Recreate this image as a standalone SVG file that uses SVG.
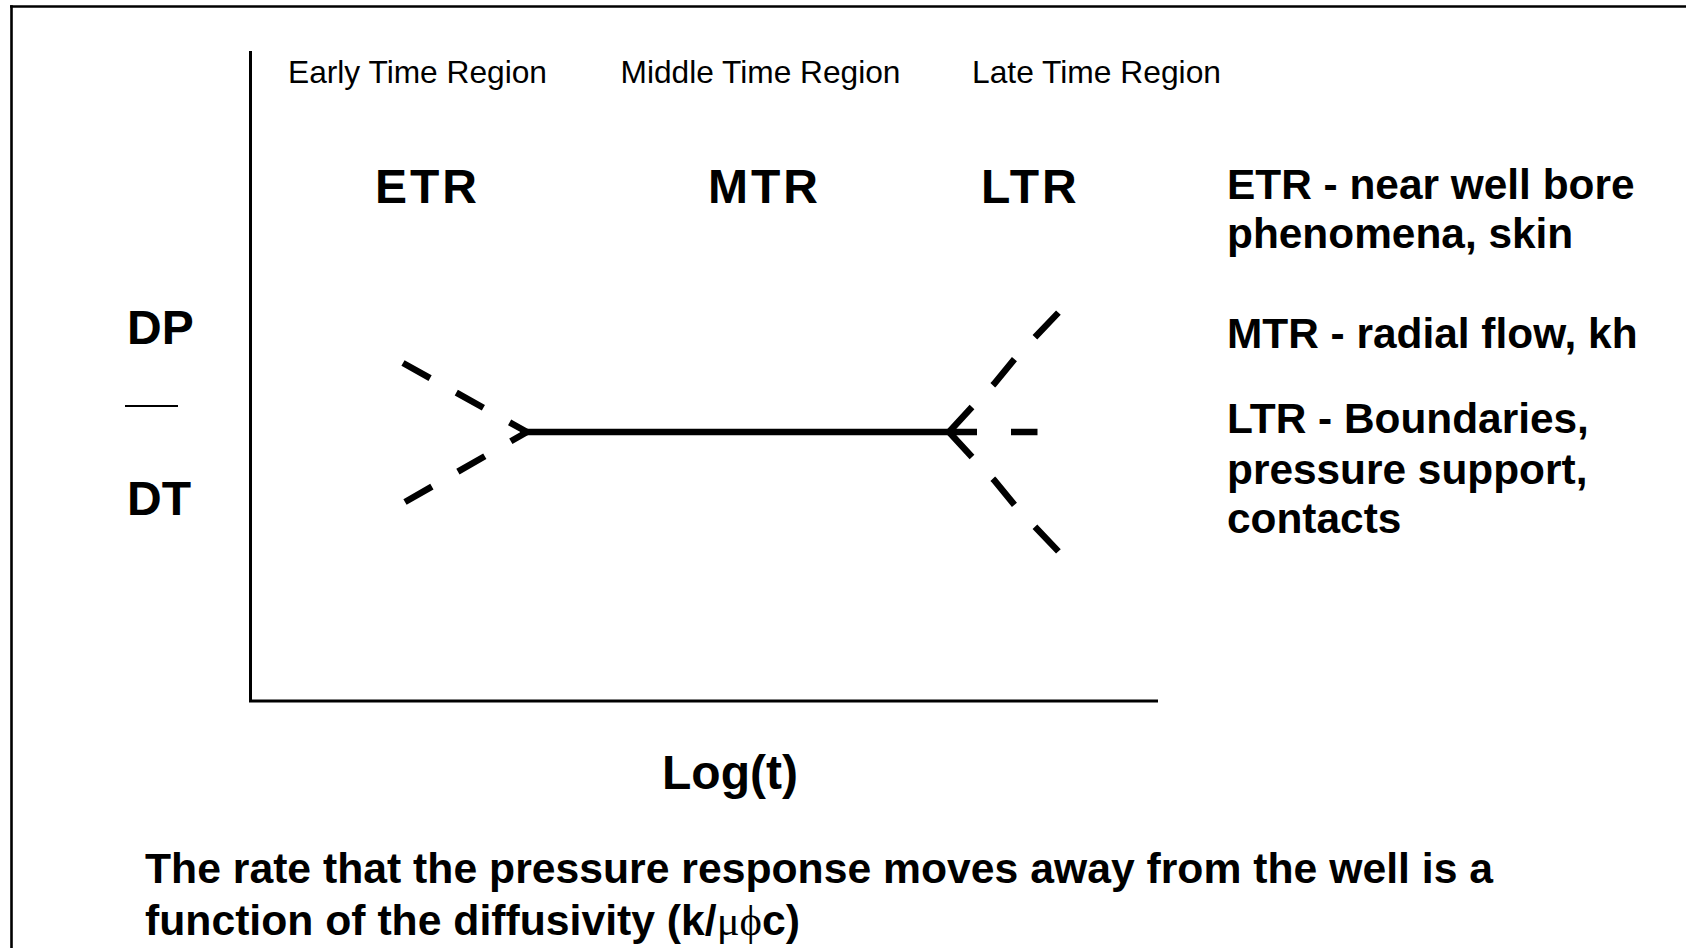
<svg xmlns="http://www.w3.org/2000/svg" width="1686" height="948" viewBox="0 0 1686 948">
<style>
.reg{font-family:"Liberation Sans",Arial,sans-serif;font-size:31.5px;fill:#000}
.big{font-family:"Liberation Sans",Arial,sans-serif;font-size:48px;font-weight:bold;fill:#000}
.sp{letter-spacing:3px}
.note{font-family:"Liberation Sans",Arial,sans-serif;font-size:42.4px;font-weight:bold;fill:#000}
.cap{font-family:"Liberation Sans",Arial,sans-serif;font-size:42.7px;font-weight:bold;fill:#000}
.sym{font-family:"Liberation Serif","Times New Roman",serif;font-weight:normal}
.axis{stroke:#000;stroke-width:3;fill:none}
.solid{stroke:#000;stroke-width:6.5;fill:none}
.dashL{stroke:#000;stroke-width:6.5;fill:none;stroke-dasharray:31 30}
.dashR{stroke:#000;stroke-width:6.5;fill:none;stroke-dasharray:34 30}
</style>
<rect x="0" y="0" width="1686" height="948" fill="#fff"/>
<g id="frame">
<line x1="10" y1="6.5" x2="1686" y2="6.5" stroke="#000" stroke-width="2.6"/>
<line x1="11.5" y1="5.2" x2="11.5" y2="948" stroke="#000" stroke-width="2.6"/>
</g>
<g id="axes">
<line class="axis" x1="250.5" y1="51" x2="250.5" y2="701"/>
<line class="axis" x1="249" y1="701" x2="1158" y2="701"/>
</g>
<g id="region-labels">
<text class="reg" x="288" y="83" textLength="259" lengthAdjust="spacingAndGlyphs">Early Time Region</text>
<text class="reg" x="620.5" y="83" textLength="280" lengthAdjust="spacingAndGlyphs">Middle Time Region</text>
<text class="reg" x="972" y="83" textLength="249" lengthAdjust="spacingAndGlyphs">Late Time Region</text>
</g>
<g id="node-etr"><text class="big sp" x="375" y="203">ETR</text></g>
<g id="node-mtr"><text class="big sp" x="708" y="203">MTR</text></g>
<g id="node-ltr"><text class="big sp" x="981" y="203">LTR</text></g>
<g id="y-label">
<text class="big" x="127" y="344">DP</text>
<line x1="125" y1="406" x2="178" y2="406" stroke="#000" stroke-width="2"/>
<text class="big" x="127" y="515">DT</text>
</g>
<g id="x-label"><text class="big" x="662" y="789">Log(t)</text></g>
<g id="connectors">
<line class="solid" x1="520" y1="432" x2="977" y2="432"/>
<line class="dashL" x1="403" y1="363" x2="527" y2="432"/>
<line class="dashL" x1="405" y1="502" x2="527" y2="432"/>
<path class="dashR" d="M949,432 L972,407 L994,384 L1017,356 L1059,312"/>
<path class="dashR" d="M949,432 L972,457 L994,480 L1017,508 L1059,552"/>
<line class="solid" x1="1011" y1="432" x2="1037.5" y2="432"/>
</g>
<g id="notes">
<text class="note" x="1227" y="199">ETR - near well bore</text>
<text class="note" x="1227" y="248">phenomena, skin</text>
<text class="note" x="1227" y="348">MTR - radial flow, kh</text>
<text class="note" x="1227" y="433">LTR - Boundaries,</text>
<text class="note" x="1227" y="484">pressure support,</text>
<text class="note" x="1227" y="533">contacts</text>
</g>
<g id="caption">
<text class="cap" x="145" y="883" textLength="1348" lengthAdjust="spacingAndGlyphs">The rate that the pressure response moves away from the well is a</text>
<text class="cap" x="145" y="935" textLength="655" lengthAdjust="spacingAndGlyphs">function of the diffusivity (k/<tspan class="sym">μϕ</tspan>c)</text>
</g>
</svg>
